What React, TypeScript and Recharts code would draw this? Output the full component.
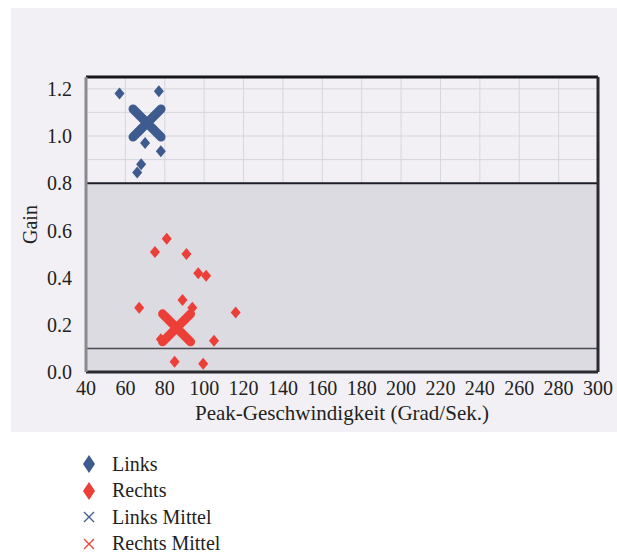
import React from 'react';
import { ScatterChart, Scatter, XAxis, YAxis, CartesianGrid, ReferenceArea, ReferenceLine, Label } from 'recharts';

const linksX = [57, 77, 70, 78, 68, 66];
const linksY = [1.18, 1.19, 0.97, 0.935, 0.88, 0.845];
const rechtsX = [81, 75, 91, 97, 101, 67, 89, 94, 116, 78, 105, 85, 99.5];
const rechtsY = [0.565, 0.508, 0.5, 0.418, 0.408, 0.272, 0.305, 0.272, 0.252, 0.139, 0.132, 0.043, 0.035];
const linksMittel = [{ x: 71, y: 1.055 }];
const rechtsMittel = [{ x: 86, y: 0.187 }];

const xTicks = [40, 60, 80, 100, 120, 140, 160, 180, 200, 220, 240, 260, 280, 300];
const yTicks = [0, 0.2, 0.4, 0.6, 0.8, 1.0, 1.2];
const yGrid = [0.8, 0.9, 1.0, 1.1, 1.2];

const BLUE = '#3d5b8e';
const RED = '#ec3f37';
const FONT = '"Liberation Serif", "DejaVu Serif", serif';

const links = linksX.map((x, i) => ({ x, y: linksY[i] }));
const rechts = rechtsX.map((x, i) => ({ x, y: rechtsY[i] }));

const diamond = (color: string) => (props: any) => {
  const { cx, cy } = props;
  return <path d={`M${cx},${cy - 6} L${cx + 5},${cy} L${cx},${cy + 6} L${cx - 5},${cy} Z`} fill={color} />;
};

const bigCross = (color: string) => (props: any) => {
  const { cx, cy } = props;
  const r = 14;
  return (
    <path
      d={`M${cx - r},${cy - r} L${cx + r},${cy + r} M${cx + r},${cy - r} L${cx - r},${cy + r}`}
      stroke={color}
      strokeWidth={9}
      strokeLinecap="round"
    />
  );
};

const legendItems = [
  { name: 'Links', color: BLUE, kind: 'diamond' },
  { name: 'Rechts', color: RED, kind: 'diamond' },
  { name: 'Links Mittel', color: BLUE, kind: 'cross' },
  { name: 'Rechts Mittel', color: RED, kind: 'cross' },
];

export default function App() {
  return (
    <div style={{ position: 'absolute', left: 0, top: 0, width: 617, height: 554, background: '#fff', fontFamily: FONT }}>
      <div style={{ position: 'absolute', left: 11, top: 8, width: 606, height: 424, background: '#f2f0f5' }} />
      <div style={{ position: 'absolute', left: 0, top: 0 }}>
        <ScatterChart width={617} height={440} margin={{ top: 77, right: 19, left: 30, bottom: 18 }}>
          <CartesianGrid stroke="#d6d6de" strokeWidth={1} horizontalValues={yGrid} verticalValues={xTicks} />
          <ReferenceArea x1={40} x2={300} y1={0} y2={0.8} fill="#dcdbe1" fillOpacity={1} stroke="none" />
          <ReferenceLine y={0.8} stroke="#1e1e28" strokeWidth={2} />
          <ReferenceLine y={0.1} stroke="#4a4a55" strokeWidth={1.5} />
          <ReferenceLine y={1.25} stroke="#15151a" strokeWidth={3} />
          <ReferenceLine y={0} stroke="#2a2a30" strokeWidth={3} />
          <ReferenceLine x={40} stroke="#8a8a90" strokeWidth={3} />
          <ReferenceLine x={300} stroke="#2a2a30" strokeWidth={3} />
          <XAxis
            type="number"
            dataKey="x"
            domain={[40, 300]}
            ticks={xTicks}
            axisLine={false}
            tickLine={false}
            height={50}
            tickMargin={3}
            tick={{ fill: '#222', fontSize: 20, fontFamily: FONT }}
            interval={0}
          >
            <Label value="Peak-Geschwindigkeit (Grad/Sek.)" position="insideBottom" offset={2} style={{ fill: '#222', fontSize: 21, fontFamily: FONT }} />
          </XAxis>
          <YAxis
            type="number"
            dataKey="y"
            domain={[0, 1.25]}
            ticks={yTicks}
            axisLine={false}
            tickLine={false}
            width={56}
            tickMargin={8}
            tickFormatter={(v: number) => v.toFixed(1)}
            tick={{ fill: '#222', fontSize: 20, fontFamily: FONT }}
            interval={0}
          >
            <Label value="Gain" angle={-90} position="insideLeft" offset={0} style={{ fill: '#222', fontSize: 20, fontFamily: FONT, textAnchor: 'middle' }} />
          </YAxis>
          <Scatter name="Links" data={links} shape={diamond(BLUE)} isAnimationActive={false} />
          <Scatter name="Rechts" data={rechts} shape={diamond(RED)} isAnimationActive={false} />
          <Scatter name="Links Mittel" data={linksMittel} shape={bigCross(BLUE)} isAnimationActive={false} />
          <Scatter name="Rechts Mittel" data={rechtsMittel} shape={bigCross(RED)} isAnimationActive={false} />
        </ScatterChart>
      </div>
      <div style={{ position: 'absolute', left: 80, top: 451 }}>
        {legendItems.map((item) => (
          <div key={item.name} style={{ display: 'flex', alignItems: 'center', height: 26.5, fontSize: 20, color: '#222' }}>
            <svg width={18} height={20} style={{ marginRight: 14 }}>
              {item.kind === 'diamond' ? (
                <path d="M9,1 L15,10 L9,19 L3,10 Z" fill={item.color} />
              ) : (
                <path d="M4,5 L14,15 M14,5 L4,15" stroke={item.color} strokeWidth={1.3} />
              )}
            </svg>
            <span>{item.name}</span>
          </div>
        ))}
      </div>
    </div>
  );
}
